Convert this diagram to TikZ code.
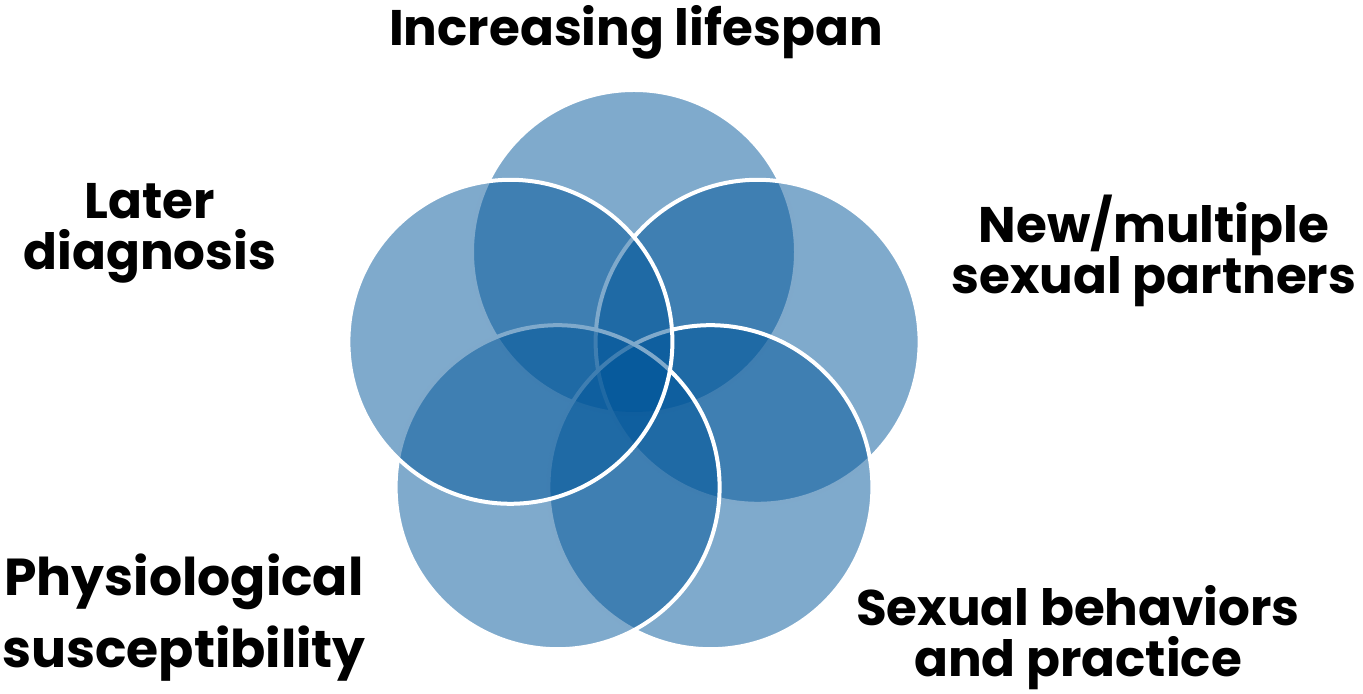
\documentclass[tikz,border=0pt]{standalone}
\usepackage{fontspec}
\setmainfont{Poppins}
\usetikzlibrary{positioning}
\definecolor{vennblue}{RGB}{0,85,153}
\tikzset{
  venn/.style={circle, minimum size=162pt, inner sep=0pt, fill=vennblue,
    fill opacity=0.5, draw=white, draw opacity=1, line width=2pt},
  factor/.style={align=center, inner sep=0pt, text=black,
    font=\bfseries\fontsize{25}{25.5}\selectfont}
}

\begin{document}
\begin{tikzpicture}[x=0.5pt, y=0.5pt]
\useasboundingbox (0,0) rectangle (1363,694);
%% circles, drawn clockwise from the top
  \node[venn] (life) at (634,442) {};
  \node[venn] (partners) at (757.6,352.2) {};
  \node[venn] (behav) at (710.4,206.8) {};
  \node[venn] (physio) at (557.6,206.8) {};
  \node[venn] (diag) at (510.4,352.2) {};
%% labels
  \node[factor] (lifeL) at (636,662) {Increasing lifespan};
  \node[factor] (partnersL) at (1154,443) {New/multiple\\sexual partners};
  \node[factor] (behavL) at (1078,56) {Sexual behaviors\\and practice};
  \node[factor, font=\bfseries\fontsize{26}{36}\selectfont]
    (physioL) at (184,76) {Physiological\\susceptibility};
  \node[factor] (diagL) at (150,461) {Later\\diagnosis};
\end{tikzpicture}
\end{document}
